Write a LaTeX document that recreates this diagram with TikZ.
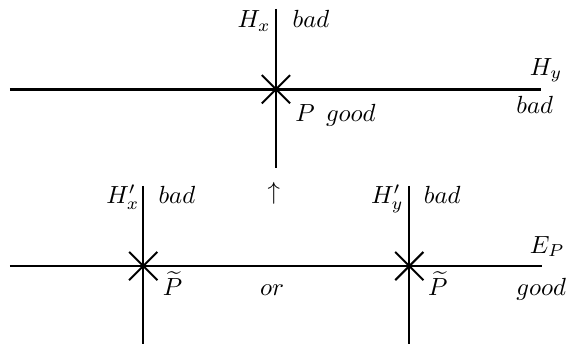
\documentclass[tikz,border=0pt]{standalone}
\usepackage{amsmath}
\usepackage{amssymb}
\usetikzlibrary{calc}

\tikzset{
  lbl/.style={inner sep=0pt, anchor=base west},
  crossline/.style={line width=0.8pt},
}

\begin{document}
\begin{tikzpicture}
    \useasboundingbox (0,0) rectangle (8.02,4.875);

    % Points where the curves meet
    \coordinate (P) at (3.91,3.61);
    \coordinate (Pl) at (2.03,1.105);
    \coordinate (Pr) at (5.80,1.105);

    % Top picture: H_x and H_y through P
    \draw [line width=1.2pt] (0.14,3.61) -- (7.67,3.61);
    \draw [line width=0.8pt] (3.91,4.75) -- (3.91,2.49);

    % Bottom picture: E_P with H'_x and H'_y
    \draw [line width=0.8pt] (0.14,1.105) -- (7.68,1.105);
    \draw [line width=0.8pt] (2.03,2.24) -- (2.03,0);
    \draw [line width=0.8pt] (5.80,2.24) -- (5.80,0);

    % Crosses at the blown-up points
    \foreach \pt in {P,Pl,Pr}
        \draw [crossline] ($(\pt)+(-0.2,-0.2)$) -- ($(\pt)+(0.2,0.2)$)
                          ($(\pt)+(-0.2,0.2)$) -- ($(\pt)+(0.2,-0.2)$);

    % Labels, top
    \node [lbl] (hx) at (3.36,4.48) {$H_x$};
    \node [lbl] (hxbad) at (4.14,4.49) {$bad$};
    \node [lbl] (pgood) at (4.18,3.16) {$P$\hspace{4.5pt}$good$};
    \node [lbl] (hy) at (7.50,3.81) {$H_y$};
    \node [lbl] (hybad) at (7.31,3.26) {$bad$};

    % Arrow between the two pictures
    \node [inner sep=0pt] (up) at (3.88,2.13) {$\uparrow$};

    % Labels, bottom
    \node [lbl] (hxp) at (1.50,1.99) {$H'_x$};
    \node [lbl] (hxpbad) at (2.24,1.99) {$bad$};
    \node [lbl] (ptl) at (2.30,0.69) {$\widetilde{P}$};
    \node [lbl] (or) at (3.68,0.69) {$or$};
    \node [lbl] (hyp) at (5.25,1.99) {$H'_y$};
    \node [lbl] (hypbad) at (6.00,1.99) {$bad$};
    \node [lbl] (ptr) at (6.06,0.69) {$\widetilde{P}$};
    \node [lbl] (ep) at (7.50,1.29) {$E_P$};
    \node [lbl] (epgood) at (7.31,0.69) {$good$};
\end{tikzpicture}
\end{document}
